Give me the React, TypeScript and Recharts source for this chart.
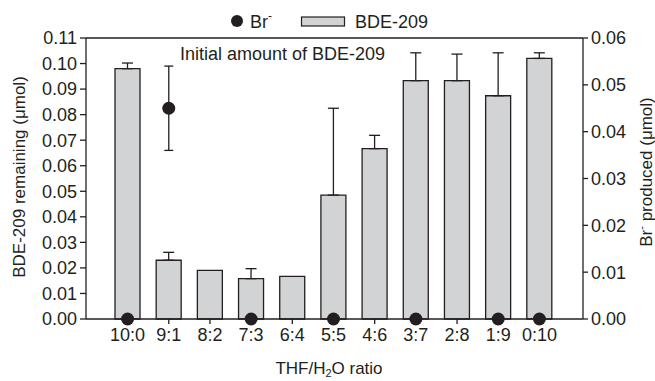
import React from "react";
import {
  ComposedChart,
  Bar,
  Scatter,
  XAxis,
  YAxis,
  ErrorBar,
  ReferenceLine,
  Legend,
  Label,
} from "recharts";

// proporcoes THF/H2O no eixo x
const ratios = ["10:0", "9:1", "8:2", "7:3", "6:4", "5:5", "4:6", "3:7", "2:8", "1:9", "0:10"];
// BDE-209 remanescente (umol) e erro so para cima
const bdeRemaining = [0.098, 0.023, 0.019, 0.0158, 0.0167, 0.0485, 0.0667, 0.0933, 0.0933, 0.0874, 0.102];
const bdeErrUp = [0.0022, 0.0031, null, 0.0039, null, 0.034, 0.0052, 0.0109, 0.0104, 0.0168, 0.0022];
// Br- produzido (umol); null onde nao foi medido
const brProduced = [0, 0.045, null, 0, null, 0, null, 0, null, 0, 0];
const brErr = [null, 0.009, null, null, null, null, null, null, null, null, null];

const leftTicks = [0, 0.01, 0.02, 0.03, 0.04, 0.05, 0.06, 0.07, 0.08, 0.09, 0.1, 0.11];
const rightTicks = [0, 0.01, 0.02, 0.03, 0.04, 0.05, 0.06];

const INK = "#231f20";
const GRAY = "#d1d3d4";
const FONT = "'Liberation Sans', Arial, Helvetica, sans-serif";

const data = ratios.map((r, i) => ({
  ratio: r,
  bde: bdeRemaining[i],
  bdeErr: bdeErrUp[i] == null ? null : [0, bdeErrUp[i]],
  br: brProduced[i],
  brErr: brErr[i],
}));

function Legenda() {
  return (
    <svg width={655} height={36} style={{ display: "block" }}>
      <circle cx={237} cy={21} r={6} fill={INK} />
      <text x={250} y={28} fontSize={18} fontFamily={FONT} fill={INK}>
        Br
        <tspan dy={-8} fontSize={12}>-</tspan>
      </text>
      <rect x={301.5} y={17} width={43} height={9} fill={GRAY} stroke={INK} strokeWidth={1.2} />
      <text x={355} y={28} fontSize={18} fontFamily={FONT} fill={INK}>
        BDE-209
      </text>
    </svg>
  );
}

function PontoBr(props: any) {
  const { cx, cy, payload } = props;
  if (payload == null || payload.br == null) return <g />;
  return <circle cx={cx} cy={cy} r={6.5} fill={INK} />;
}

export default function App() {
  return (
    <div style={{ position: "absolute", left: 0, top: 0, fontFamily: FONT }}>
      <ComposedChart
        width={655}
        height={381}
        data={data}
        margin={{ top: 38, right: 0, bottom: 0, left: 0 }}
      >
        <XAxis
          dataKey="ratio"
          xAxisId="x"
          height={62}
          interval={0}
          padding={{ left: 21, right: 23 }}
          tickSize={5}
          tickMargin={4}
          stroke={INK}
          strokeWidth={1.3}
          tick={{ fontSize: 18, fill: INK, fontFamily: FONT }}
        >
          <Label
            content={() => (
              <text x={329} y={374} textAnchor="middle" fontSize={17} fontFamily={FONT} fill={INK}>
                THF/H
                <tspan dy={3} fontSize={11}>2</tspan>
                <tspan dy={-3}>O ratio</tspan>
              </text>
            )}
          />
        </XAxis>
        <YAxis
          yAxisId="left"
          width={86}
          domain={[0, 0.11]}
          ticks={leftTicks}
          interval={0}
          tickFormatter={(v: number) => v.toFixed(2)}
          tickSize={6}
          tickMargin={3}
          stroke={INK}
          strokeWidth={1.3}
          tick={{ fontSize: 18, fill: INK, fontFamily: FONT }}
        >
          <Label
            content={() => (
              <text
                x={25}
                y={177}
                transform="rotate(-90, 25, 177)"
                textAnchor="middle"
                fontSize={17}
                fontFamily={FONT}
                fill={INK}
              >
                BDE-209 remaining (μmol)
              </text>
            )}
          />
        </YAxis>
        <YAxis
          yAxisId="right"
          orientation="right"
          width={72}
          domain={[0, 0.06]}
          ticks={rightTicks}
          interval={0}
          tickFormatter={(v: number) => v.toFixed(2)}
          tickSize={5}
          tickMargin={3}
          stroke={INK}
          strokeWidth={1.3}
          tick={{ fontSize: 18, fill: INK, fontFamily: FONT }}
        >
          <Label
            content={() => (
              <text
                x={652}
                y={172}
                transform="rotate(-90, 652, 172)"
                textAnchor="middle"
                fontSize={17}
                fontFamily={FONT}
                fill={INK}
              >
                Br
                <tspan dy={-7} fontSize={11}>-</tspan>
                <tspan dy={7}> produced (μmol)</tspan>
              </text>
            )}
          />
        </YAxis>
        <Legend
          verticalAlign="middle"
          align="center"
          layout="horizontal"
          wrapperStyle={{ top: 0, left: 0, width: 655, height: 36 }}
          content={() => <Legenda />}
        />
        <ReferenceLine
          yAxisId="left"
          xAxisId="x"
          y={0.11}
          stroke={INK}
          strokeWidth={1.3}
          label={{
            content: (p: any) => (
              <text
                x={p.viewBox.x + 94}
                y={p.viewBox.y + 22}
                fontSize={18}
                fontFamily={FONT}
                fill={INK}
              >
                Initial amount of BDE-209
              </text>
            ),
          }}
        />
        <Bar
          dataKey="bde"
          name="BDE-209"
          yAxisId="left"
          xAxisId="x"
          barSize={25}
          fill={GRAY}
          stroke={INK}
          strokeWidth={1.3}
          isAnimationActive={false}
        >
          <ErrorBar dataKey="bdeErr" direction="y" width={5.5} stroke={INK} strokeWidth={1.3} />
        </Bar>
        <Scatter
          dataKey="br"
          name="Br-"
          yAxisId="right"
          xAxisId="x"
          fill={INK}
          shape={PontoBr}
          isAnimationActive={false}
        >
          <ErrorBar dataKey="brErr" direction="y" width={4.5} stroke={INK} strokeWidth={1.3} />
        </Scatter>
      </ComposedChart>
    </div>
  );
}
